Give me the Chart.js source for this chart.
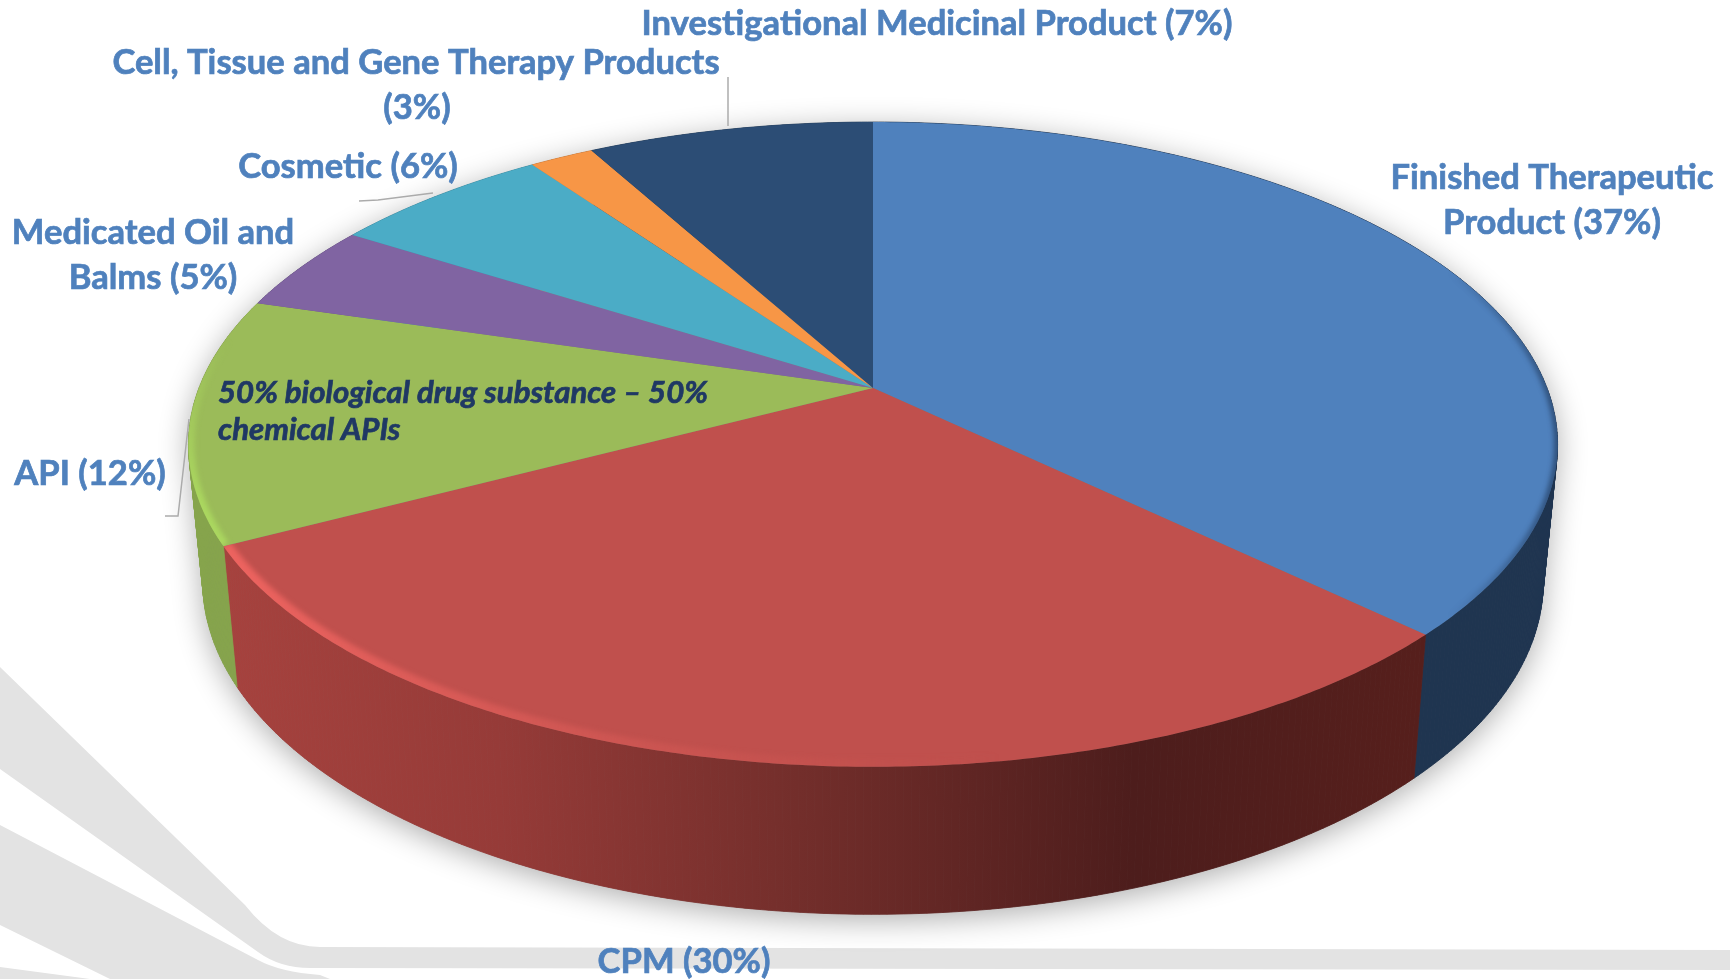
<!DOCTYPE html>
<html>
<head>
<meta charset="utf-8">
<title>Product categories</title>
<script src="https://cdn.jsdelivr.net/npm/chart.js@4"></script>
<style>
  html, body { margin: 0; padding: 0; background: #fff; }
  canvas { display: block; }
</style>
</head>
<body>
<canvas id="pie" width="1730" height="979"></canvas>
<script>
/* Values */
const categories = [
  'Finished Therapeutic Product', 'CPM', 'API', 'Medicated Oil and Balms',
  'Cosmetic', 'Cell, Tissue and Gene Therapy Products', 'Investigational Medicinal Product'
];
// slice sizes as drawn in the picture (two of them differ slightly from their printed label)
const sliceShares = [37.2, 30.1, 12.3, 4.4, 6.2, 1.8, 8];
const printedPercents = [37, 30, 12, 5, 6, 3, 7];

/* Styles */
const topColors = ['#4f81bd', '#c0504d', '#9bbb59', '#8064a2', '#4bacc6', '#f79646', '#2c4d75'];
const wallColors = ['#1f3550', null, '#86a44c', '#6a5387', '#3d8ea4', '#cc7a38', '#223c5b'];
const LABEL_BLUE = '#4f81bd';
const LABEL_FONT = 'bold 34.6px Lato, sans-serif';

/* Perspective of the 3D pie: the disc's rim is an ellipse, its centre is off-centre */
const PIE = { x: 873, y: 388, a: 674, b: 312.5, p: 0.175, drop: 136, bottomScale: 0.979, bottomB: 322 };

function project(angle, level) {
  const u = Math.cos(angle), v = Math.sin(angle);
  const w = 1 - PIE.p * v;
  if (level === 0) return [PIE.x + PIE.a * u / w, PIE.y + PIE.b * v / w];
  return [PIE.x + PIE.a * PIE.bottomScale * u / w, PIE.y + PIE.drop + PIE.bottomB * v / w];
}

function rimPoints(start, end, level) {
  const pts = [];
  const n = Math.max(2, Math.ceil((end - start) / 0.01));
  for (let i = 0; i <= n; i++) pts.push(project(start + (end - start) * i / n, level));
  return pts;
}

function tracePoints(ctx, pts, moveFirst = true) {
  pts.forEach((p, i) => {
    if (i === 0 && moveFirst) ctx.moveTo(p[0], p[1]);
    else ctx.lineTo(p[0], p[1]);
  });
}

// each small quad is painted on its own: front and back quads wind opposite ways
function paintWall(ctx, start, end, paint) {
  const top = rimPoints(start, end, 0), bottom = rimPoints(start, end, 1);
  ctx.fillStyle = paint;
  ctx.strokeStyle = paint;
  ctx.lineWidth = 0.8;
  for (let i = 0; i < top.length - 1; i++) {
    ctx.beginPath();
    ctx.moveTo(top[i][0], top[i][1]);
    ctx.lineTo(top[i + 1][0], top[i + 1][1]);
    ctx.lineTo(bottom[i + 1][0], bottom[i + 1][1]);
    ctx.lineTo(bottom[i][0], bottom[i][1]);
    ctx.closePath();
    ctx.fill();
    ctx.stroke();
  }
}

function traceSilhouette(ctx) {
  const side = Math.asin(PIE.p);
  tracePoints(ctx, rimPoints(side, Math.PI - side, 1));
  tracePoints(ctx, rimPoints(Math.PI - side, Math.PI * 2 + side, 0), false);
  ctx.closePath();
}

function redWallGradient(ctx) {
  const g = ctx.createLinearGradient(225, 0, 1420, 0);
  g.addColorStop(0, '#a6423e');
  g.addColorStop(0.23, '#963b38');
  g.addColorStop(0.48, '#732e2b');
  g.addColorStop(0.76, '#4d1d1c');
  g.addColorStop(1, '#561f1c');
  return g;
}

/* Grey rays behind the chart, decoration only */
const backdrop = {
  id: 'backdrop',
  beforeDraw(chart) {
    const ctx = chart.ctx;
    ctx.save();
    ctx.fillStyle = '#e3e3e3';
    ctx.beginPath();
    ctx.moveTo(0, 667);
    ctx.lineTo(245, 905);
    ctx.quadraticCurveTo(278, 947, 320, 947);
    ctx.lineTo(1730, 950);
    ctx.lineTo(1730, 970);
    ctx.lineTo(310, 968);
    ctx.quadraticCurveTo(280, 968, 258, 952);
    ctx.lineTo(0, 769);
    ctx.closePath();
    ctx.moveTo(0, 825);
    ctx.lineTo(258, 960);
    ctx.quadraticCurveTo(280, 972, 320, 975);
    ctx.lineTo(330, 979);
    ctx.lineTo(110, 979);
    ctx.lineTo(0, 925);
    ctx.closePath();
    ctx.moveTo(0, 967);
    ctx.lineTo(90, 979);
    ctx.lineTo(0, 979);
    ctx.closePath();
    ctx.fill();
    ctx.restore();
  }
};

/* Draws the library's arcs (their computed angles) in perspective, with walls */
const pie3d = {
  id: 'pie3d',
  beforeDatasetsDraw(chart) {
    const ctx = chart.ctx;
    const arcs = chart.getDatasetMeta(0).data;
    ctx.save();

    // soft shadow under the whole disc
    ctx.save();
    ctx.shadowColor = 'rgba(0,0,0,0.32)';
    ctx.shadowBlur = 30;
    ctx.shadowOffsetY = 6;
    ctx.fillStyle = '#777';
    ctx.beginPath();
    traceSilhouette(ctx);
    ctx.fill();
    ctx.restore();

    // walls
    arcs.forEach((arc, i) => {
      paintWall(ctx, arc.startAngle, arc.endAngle, wallColors[i] || redWallGradient(ctx));
    });

    // top faces
    arcs.forEach((arc, i) => {
      ctx.beginPath();
      ctx.moveTo(PIE.x, PIE.y);
      tracePoints(ctx, rimPoints(arc.startAngle, arc.endAngle, 0), false);
      ctx.closePath();
      ctx.fillStyle = arc.options.backgroundColor;
      ctx.fill();
    });

    // bevel along the front rim
    const bevel = (i, color0, color1, from, to, width) => {
      const arc = arcs[i];
      ctx.save();
      ctx.beginPath();
      ctx.moveTo(PIE.x, PIE.y);
      tracePoints(ctx, rimPoints(arc.startAngle, arc.endAngle, 0), false);
      ctx.closePath();
      ctx.clip();
      const g = ctx.createLinearGradient(from[0], from[1], to[0], to[1]);
      g.addColorStop(0, color0);
      g.addColorStop(1, color1);
      ctx.strokeStyle = g;
      ctx.lineWidth = width;
      ctx.filter = 'blur(2.5px)';
      ctx.beginPath();
      tracePoints(ctx, rimPoints(arc.startAngle, arc.endAngle, 0));
      ctx.stroke();
      ctx.restore();
    };
    bevel(1, 'rgba(238,100,96,0.95)', 'rgba(200,84,80,0)', [240, 0], [1000, 0], 16);
    bevel(2, 'rgba(172,218,96,0)', 'rgba(172,218,96,0.9)', [0, 340], [0, 500], 12);
    bevel(0, 'rgba(25,45,75,0)', 'rgba(25,45,75,0.6)', [1450, 0], [1555, 0], 7);

    ctx.restore();
    return false; // the default flat arcs are not wanted
  }
};

/* Outside labels and leader lines */
const labelRows = [
  { text: `${categories[6]} (${printedPercents[6]}%)`, x: 937, y: 24 },
  { text: categories[5], x: 416, y: 63 },
  { text: `(${printedPercents[5]}%)`, x: 417, y: 108 },
  { text: 'Cosmetic (' + printedPercents[4] + '%)', x: 348, y: 167 },
  { text: 'Medicated Oil and', x: 153, y: 233 },
  { text: `Balms (${printedPercents[3]}%)`, x: 153, y: 278 },
  { text: 'Finished Therapeutic', x: 1552, y: 178 },
  { text: `Product (${printedPercents[0]}%)`, x: 1552, y: 223 },
  { text: `API (${printedPercents[2]}%)`, x: 90, y: 474 },
  { text: `CPM (${printedPercents[1]}%)`, x: 684, y: 962 },
];
const leaders = [
  [[728, 77], [728, 126]],
  [[359, 201], [378, 200], [433, 193]],
  [[189, 419], [178, 516], [165, 516]],
];

function boldText(ctx, text, x, y) {
  ctx.strokeText(text, x, y); // a hair heavier than Lato Bold on its own
  ctx.fillText(text, x, y);
}

const labels3d = {
  id: 'labels3d',
  afterDraw(chart) {
    const ctx = chart.ctx;
    ctx.save();
    ctx.strokeStyle = '#ababab';
    ctx.lineWidth = 1.5;
    leaders.forEach(line => {
      ctx.beginPath();
      tracePoints(ctx, line);
      ctx.stroke();
    });
    ctx.fillStyle = LABEL_BLUE;
    ctx.strokeStyle = LABEL_BLUE;
    ctx.lineWidth = 0.7;
    ctx.font = LABEL_FONT;
    ctx.textAlign = 'center';
    ctx.textBaseline = 'middle';
    labelRows.forEach(r => boldText(ctx, r.text, r.x, r.y));

    ctx.fillStyle = '#1f3864';
    ctx.strokeStyle = '#1f3864';
    ctx.font = 'italic bold 31.2px Lato, sans-serif';
    ctx.textAlign = 'left';
    boldText(ctx, '50% biological drug substance – 50%', 218, 393);
    boldText(ctx, 'chemical APIs', 218, 430);
    ctx.restore();
  }
};

new Chart(document.getElementById('pie'), {
  type: 'pie',
  data: {
    labels: categories,
    datasets: [{ data: sliceShares, backgroundColor: topColors, borderWidth: 0 }]
  },
  options: {
    responsive: false,
    animation: false,
    devicePixelRatio: 1,
    plugins: { legend: { display: false }, tooltip: { enabled: false } }
  },
  plugins: [backdrop, pie3d, labels3d]
});
</script>
</body>
</html>
